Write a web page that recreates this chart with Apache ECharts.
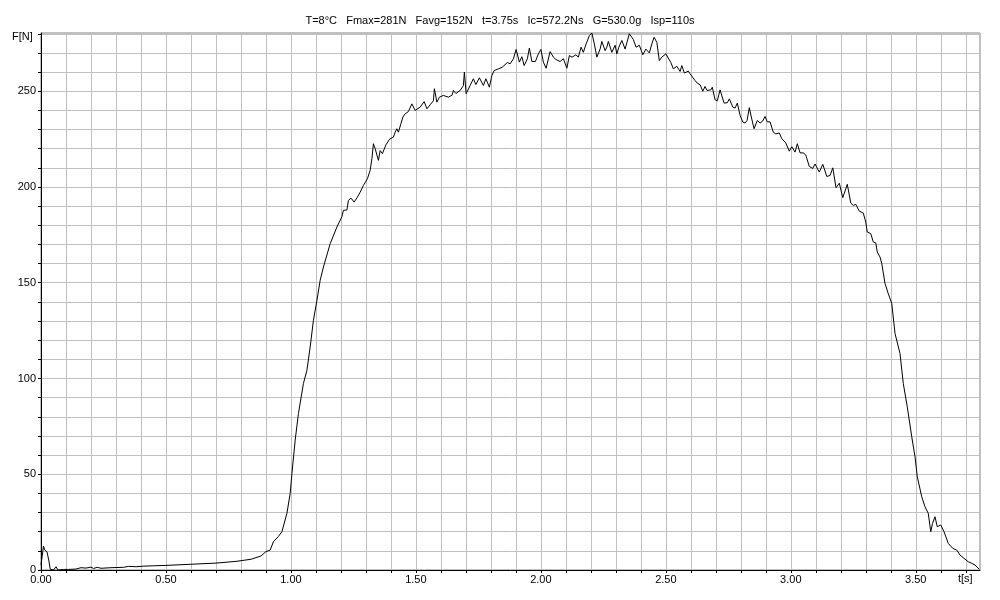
<!DOCTYPE html>
<html>
<head>
<meta charset="utf-8">
<script src="https://cdn.jsdelivr.net/npm/echarts@6/dist/echarts.min.js"></script>
<style>html,body{margin:0;padding:0;background:#fff;}#c{width:1000px;height:600px;}</style>
</head>
<body>
<div id="c"></div>
<script>
const titleText = 'T=8°C   Fmax=281N   Favg=152N   t=3.75s   Ic=572.2Ns   G=530.0g   Isp=110s';
const xName = 't[s]';
const yName = 'F[N]';

const times = [
0.000,0.010,0.015,0.024,0.031,0.037,0.050,0.060,0.068,0.090,0.097,0.110,0.140,0.160,0.168,0.180,0.200,0.210,0.225,0.240,
0.280,0.330,0.350,0.380,0.410,0.450,0.500,0.600,0.700,0.780,0.840,0.880,0.900,0.917,0.930,0.950,0.964,0.984,0.997,1.004,
1.017,1.030,1.050,1.064,1.077,1.090,1.104,1.117,1.130,1.157,1.184,1.204,1.210,1.224,1.230,1.240,1.253,1.266,1.277,1.290,
1.306,1.317,1.324,1.330,1.337,1.350,1.357,1.366,1.380,1.395,1.410,1.417,1.424,1.430,1.440,1.448,1.457,1.470,1.484,1.497,
1.504,1.517,1.533,1.544,1.557,1.570,1.574,1.584,1.594,1.610,1.630,1.645,1.650,1.660,1.677,1.690,1.694,1.701,1.717,1.730,
1.740,1.754,1.770,1.780,1.794,1.804,1.813,1.830,1.845,1.853,1.866,1.877,1.890,1.901,1.914,1.924,1.933,1.946,1.954,1.964,
1.978,1.990,2.000,2.010,2.021,2.037,2.050,2.060,2.077,2.090,2.104,2.114,2.125,2.140,2.150,2.161,2.170,2.181,2.194,2.204,
2.214,2.224,2.237,2.244,2.257,2.264,2.270,2.284,2.297,2.304,2.312,2.324,2.337,2.354,2.370,2.381,2.394,2.408,2.420,2.434,
2.444,2.453,2.464,2.474,2.484,2.500,2.506,2.520,2.530,2.544,2.557,2.564,2.574,2.590,2.597,2.604,2.617,2.626,2.637,2.648,
2.657,2.665,2.680,2.686,2.697,2.706,2.717,2.733,2.746,2.754,2.768,2.777,2.786,2.797,2.808,2.817,2.825,2.834,2.843,2.853,
2.866,2.877,2.887,2.897,2.906,2.917,2.930,2.940,2.954,2.964,2.980,2.994,3.004,3.017,3.026,3.037,3.050,3.060,3.074,3.088,
3.097,3.114,3.128,3.144,3.157,3.168,3.181,3.194,3.208,3.226,3.240,3.250,3.260,3.274,3.290,3.300,3.306,3.320,3.330,3.340,
3.346,3.357,3.364,3.377,3.390,3.404,3.417,3.437,3.450,3.466,3.484,3.497,3.506,3.524,3.537,3.550,3.560,3.567,3.577,3.586,
3.600,3.613,3.630,3.648,3.664,3.677,3.693,3.710,3.724,3.737,3.754
];
const forces = [
2.6,12.5,10.4,9.5,5.2,0.4,0.0,1.7,0.0,0.3,0.9,0.3,0.5,1.2,0.6,1.0,1.5,0.8,1.4,0.9,
1.2,1.4,1.9,1.7,2.0,2.2,2.4,3.0,3.6,4.5,5.6,7.3,9.6,10.4,14.8,17.5,20.0,29.6,40.0,50.4,
67.8,81.7,97.4,104.3,116.5,130.4,140.8,151.3,158.2,170.4,179.1,184.5,187.8,188.0,193.0,194.2,192.1,194.7,197.3,200.8,
204.3,208.7,214.8,222.6,220.0,213.9,219.0,217.4,222.0,225.0,226.0,228.6,230.4,228.6,233.0,236.5,238.2,239.4,243.4,240.0,
239.4,241.7,244.6,240.8,242.9,245.0,251.3,244.3,246.9,247.8,246.9,248.0,250.4,248.8,250.4,252.9,260.0,248.7,253.0,256.5,
253.5,257.0,253.0,256.5,252.1,258.2,260.8,261.7,262.5,263.4,265.0,264.3,266.9,271.8,265.2,268.0,263.4,266.9,272.5,265.5,
265.5,269.5,271.8,265.2,262.0,270.7,267.8,266.6,265.5,267.0,262.0,268.6,267.8,269.0,267.8,273.0,270.3,274.7,279.0,280.4,
274.7,267.8,272.0,276.0,271.2,273.0,276.0,270.3,274.0,269.5,273.0,276.5,272.0,280.0,277.0,273.0,274.0,269.0,272.0,270.0,
274.7,278.2,275.5,266.0,267.8,269.5,270.4,265.0,261.7,263.0,260.3,263.4,259.5,260.5,259.1,260.0,255.6,254.2,253.4,250.0,
252.5,250.4,250.7,252.1,245.5,245.0,250.7,243.8,244.0,246.0,241.7,241.2,243.8,237.4,233.9,233.4,234.7,241.4,236.0,230.4,
234.7,233.4,234.3,236.8,234.0,234.0,228.6,227.7,228.2,225.2,223.0,218.7,221.0,218.2,222.6,217.8,217.8,216.7,210.7,209.7,
212.0,207.8,211.8,205.5,206.0,210.0,199.6,202.0,194.4,201.4,191.6,190.4,190.9,187.4,186.4,181.7,176.5,175.6,171.3,170.8,
166.0,163.4,160.0,149.6,144.3,139.1,123.5,113.0,97.4,85.2,69.5,59.1,48.7,38.2,33.0,29.6,20.0,24.3,27.8,22.6,
23.5,20.0,13.9,11.3,10.4,7.8,6.1,4.3,3.5,2.6,0.4
];

const seriesData = times.map((t, i) => [t, forces[i]]);
const FONT = 'Liberation Sans';

const chart = echarts.init(document.getElementById('c'), null, {renderer: 'canvas'});
chart.setOption({
  animation: false,
  backgroundColor: '#ffffff',
  title: {
    text: titleText,
    left: 'center',
    top: 10,
    textStyle: {fontFamily: FONT, fontSize: 11, fontWeight: 'normal', color: '#000'}
  },
  grid: {left: 41, right: 20, top: 33, bottom: 30, show: true, borderColor: '#808080', borderWidth: 1},
  xAxis: {
    type: 'value', min: 0, max: 3.757, interval: 0.1,
    axisLine: {show: true, onZero: false, lineStyle: {color: '#000', width: 1}},
    axisTick: {show: true, length: 3, lineStyle: {color: '#000'}},
    splitLine: {show: true, lineStyle: {color: '#c0c0c0', width: 1}},
    axisLabel: {
      color: '#000', fontFamily: FONT, fontSize: 11, margin: 4,
      showMaxLabel: false,
      formatter: v => (Math.abs(v * 2 - Math.round(v * 2)) < 1e-6 ? v.toFixed(2) : '')
    }
  },
  yAxis: {
    type: 'value', min: 0, max: 280.4, interval: 10,
    axisLine: {show: true, lineStyle: {color: '#000', width: 1}},
    axisTick: {show: true, length: 3, lineStyle: {color: '#000'}},
    splitLine: {show: true, lineStyle: {color: '#c0c0c0', width: 1}},
    axisLabel: {
      color: '#000', fontFamily: FONT, fontSize: 11, margin: 5,
      showMaxLabel: false,
      formatter: v => (Math.abs(v % 50) < 1e-6 ? String(v) : '')
    }
  },
  graphic: [
    {type: 'text', left: 12, top: 31, style: {text: yName, fontFamily: FONT, fontSize: 11, fill: '#000'}},
    {type: 'text', left: 958, top: 573, style: {text: xName, fontFamily: FONT, fontSize: 11, fill: '#000'}}
  ],
  series: [{
    type: 'line',
    data: seriesData,
    showSymbol: false,
    symbol: 'none',
    smooth: false,
    lineStyle: {color: '#000', width: 1},
    clip: true
  }]
});
</script>
</body>
</html>
